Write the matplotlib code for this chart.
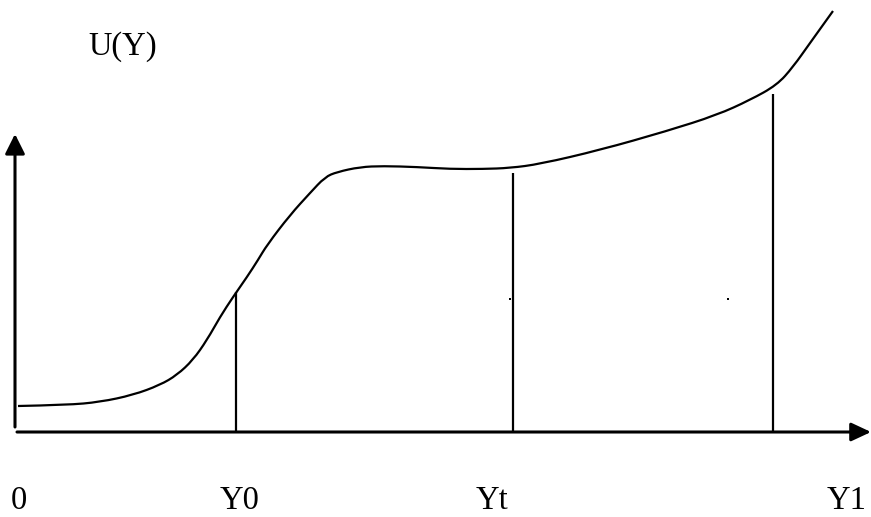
import matplotlib
matplotlib.use("Agg")
import matplotlib.pyplot as plt
from matplotlib.path import Path
from matplotlib.patches import PathPatch

# Curve U(Y) (x to the right, y downward in picture units)
curve_x = [18, 67, 100, 133, 160, 177, 193, 207, 220, 233, 247, 258, 267, 290, 310,
           325, 337, 360, 383, 417, 450, 483, 510, 540, 600, 667, 717, 750, 777,
           793, 810, 833]
curve_y = [406, 405, 402, 395, 385, 375, 360, 340, 317, 297, 277, 260, 245, 215, 193,
           177, 172, 167, 166, 167, 169, 169, 168, 164, 150, 131, 115, 100, 85,
           67, 43, 11]

# Vertical markers: position, top of line
marker_labels = ["Y0", "Yt", "Y1"]
marker_x = [236, 513, 773]
marker_top = [292, 173, 94]

# Axis labels below the axis
tick_labels = ["0", "Y0", "Yt", "Y1"]
tick_label_x = [11, 220, 476, 827]

# Axes geometry
axis_y = 432
axis_x = 15
axis_x_end = 871
axis_y_top = 134
axis_y_bottom = 427

# Stray dots
dot_x = [510, 728]
dot_y = [299, 299]

fig = plt.figure(figsize=(8.71, 5.17), dpi=100)
ax = fig.add_axes([0, 0, 1, 1])
ax.set_xlim(0, 871)
ax.set_ylim(517, 0)
ax.axis("off")

font = dict(family=["Liberation Serif", "DejaVu Serif"], fontsize=23.5, color="black")

# smooth curve: quadratic Bezier segments with read points as control points
pts = list(zip(curve_x, curve_y))
verts = [pts[0]]
codes = [Path.MOVETO]
for i in range(1, len(pts) - 1):
    mid = ((pts[i][0] + pts[i + 1][0]) / 2, (pts[i][1] + pts[i + 1][1]) / 2)
    if i == len(pts) - 2:
        mid = pts[-1]
    verts += [pts[i], mid]
    codes += [Path.CURVE3, Path.CURVE3]
ax.add_patch(PathPatch(Path(verts, codes), facecolor="none", edgecolor="black",
                       lw=1.6))

# vertical marker lines
for x, top in zip(marker_x, marker_top):
    ax.plot([x, x], [axis_y, top], color="black", lw=1.6, solid_capstyle="butt")

# horizontal axis with arrow
ax.annotate("", xy=(axis_x_end, axis_y), xytext=(17, axis_y),
            arrowprops=dict(arrowstyle="-|>,head_length=0.6,head_width=0.28",
                            lw=2.2, color="black", shrinkA=0, shrinkB=0,
                            mutation_scale=20))
# vertical axis with arrow
ax.annotate("", xy=(axis_x, axis_y_top), xytext=(axis_x, axis_y_bottom),
            arrowprops=dict(arrowstyle="-|>,head_length=0.6,head_width=0.3",
                            lw=2.2, color="black", shrinkA=0, shrinkB=0,
                            mutation_scale=20))

# dots
ax.plot(dot_x, dot_y, "s", color="black", ms=1.5, mew=0)

# labels
ax.text(88, 55, "U(Y)", ha="left", va="baseline", **font)
for lab, x in zip(tick_labels, tick_label_x):
    ax.text(x, 509, lab, ha="left", va="baseline", **font)

fig.savefig("out.png", dpi=100)
